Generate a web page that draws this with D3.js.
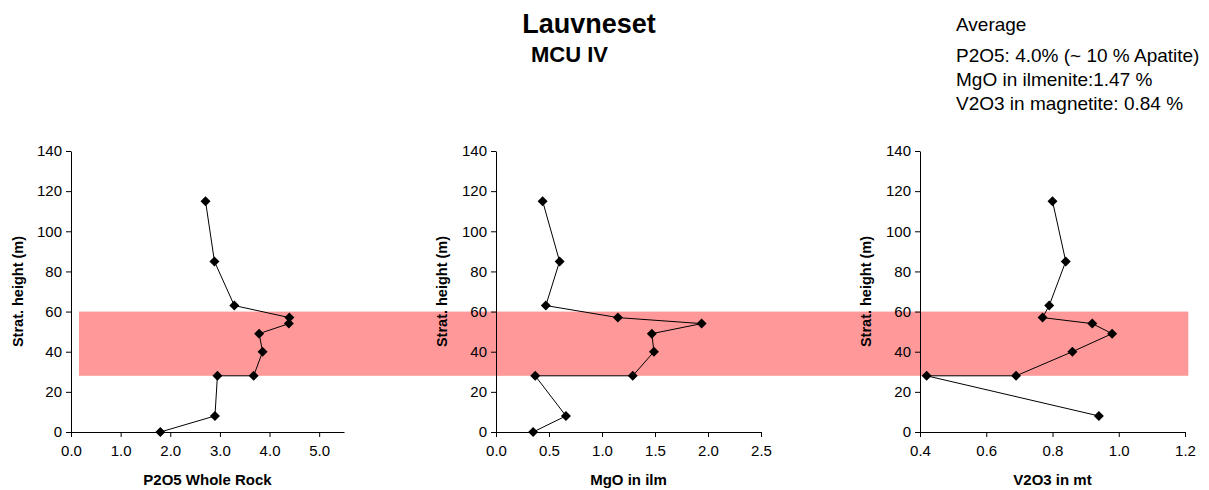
<!DOCTYPE html>
<html>
<head>
<meta charset="utf-8">
<script src="https://cdn.jsdelivr.net/npm/d3@7"></script>
<style>
  body { margin: 0; background: #fff; }
  svg { display: block; font-family: "Liberation Sans", Arial, sans-serif; }
  .axis text { font-size: 15px; fill: #000; }
  .axis path, .axis line { stroke: #000; }
</style>
</head>
<body>
<div id="chart"></div>
<script>
// stratigraphic heights (m), shared by all three profiles
const heights = [0, 8, 28, 28, 40, 49, 54, 57, 63, 85, 115];

// P2O5 whole rock (wt%)
const p2o5 = [1.80, 2.90, 2.95, 3.68, 3.86, 3.79, 4.39, 4.40, 3.29, 2.89, 2.71];
// MgO in ilmenite (wt%)
const mgo = [0.35, 0.66, 0.37, 1.29, 1.49, 1.47, 1.94, 1.15, 0.47, 0.60, 0.44];
// V2O3 in magnetite (wt%), no value at 0 m
const v2o3 = [null, 0.94, 0.42, 0.69, 0.86, 0.98, 0.92, 0.77, 0.79, 0.84, 0.80];

const yTicks = [0, 20, 40, 60, 80, 100, 120, 140];
const bandHeights = [28, 60];

const averageLines = [
    "Average",
    "P2O5: 4.0% (~ 10 % Apatite)",
    "MgO in ilmenite:1.47 %",
    "V2O3 in magnetite: 0.84 %"
];

const panels = [
    { values: p2o5, label: "P2O5 Whole Rock", domain: [0, 5.5], ticks: [0, 1, 2, 3, 4, 5], left: 71, right: 344, yLabelX: 18 },
    { values: mgo, label: "MgO in ilm", domain: [0, 2.5], ticks: [0, 0.5, 1, 1.5, 2, 2.5], left: 496, right: 761, yLabelX: 442 },
    { values: v2o3, label: "V2O3 in mt", domain: [0.4, 1.2], ticks: [0.4, 0.6, 0.8, 1.0, 1.2], left: 920, right: 1185, yLabelX: 866 }
];

const width = 1209, height = 490;

let svg = d3.select("#chart").append("svg")
    .attr("width", width)
    .attr("height", height);

let y = d3.scaleLinear()
    .domain([0, 140])
    .range([432, 151]);

panels.forEach(p => {
    p.x = d3.scaleLinear().domain(p.domain).range([p.left, p.right]);
});

// pink band behind everything, stretched across the three panels
let bandLeft = panels[0].x(0.16);
let bandRight = panels[2].x(1.21);
svg.append("rect")
    .attr("x", bandLeft)
    .attr("y", y(bandHeights[1]))
    .attr("width", bandRight - bandLeft)
    .attr("height", y(bandHeights[0]) - y(bandHeights[1]))
    .attr("fill", "#ff9999");

panels.forEach(p => {
    let g = svg.append("g");

    g.append("g")
        .attr("class", "axis")
        .attr("transform", "translate(0," + y(0) + ")")
        .call(d3.axisBottom(p.x)
            .tickValues(p.ticks)
            .tickFormat(d3.format(".1f"))
            .tickSize(5)
            .tickSizeOuter(0)
            .tickPadding(8));

    g.append("g")
        .attr("class", "axis")
        .attr("transform", "translate(" + p.left + ",0)")
        .call(d3.axisLeft(y)
            .tickValues(yTicks)
            .tickSize(5)
            .tickSizeOuter(0)
            .tickPadding(4));

    g.selectAll(".domain").attr("stroke-width", 1);

    let pts = heights.map((h, i) => ({ h: h, v: p.values[i] })).filter(d => d.v != null);

    let line = d3.line()
        .x(d => p.x(d.v))
        .y(d => y(d.h));

    g.append("path")
        .datum(pts)
        .attr("fill", "none")
        .attr("stroke", "#000")
        .attr("stroke-width", 1)
        .attr("d", line);

    g.selectAll(".marker")
        .data(pts)
        .enter().append("path")
        .attr("class", "marker")
        .attr("d", d3.symbol().type(d3.symbolSquare).size(50))
        .attr("transform", d => "translate(" + p.x(d.v) + "," + y(d.h) + ") rotate(45)")
        .attr("fill", "#000");

    g.append("text")
        .attr("x", (p.left + p.right) / 2)
        .attr("y", 485)
        .attr("text-anchor", "middle")
        .style("font-size", "15px")
        .style("font-weight", "bold")
        .text(p.label);

    g.append("text")
        .attr("transform", "translate(" + p.yLabelX + "," + y(70) + ") rotate(-90)")
        .attr("dy", "0.35em")
        .attr("text-anchor", "middle")
        .style("font-size", "14.5px")
        .style("font-weight", "bold")
        .text("Strat. height (m)");
});

svg.append("text")
    .attr("x", 589)
    .attr("y", 33)
    .attr("text-anchor", "middle")
    .style("font-size", "27px")
    .style("font-weight", "bold")
    .text("Lauvneset");

svg.append("text")
    .attr("x", 531)
    .attr("y", 62)
    .style("font-size", "22px")
    .style("font-weight", "bold")
    .text("MCU IV");

let lineY = [31, 62, 86, 110];
svg.selectAll(".avg")
    .data(averageLines)
    .enter().append("text")
    .attr("class", "avg")
    .attr("x", 956)
    .attr("y", (d, i) => lineY[i])
    .style("font-size", "19px")
    .text(d => d);
</script>
</body>
</html>
